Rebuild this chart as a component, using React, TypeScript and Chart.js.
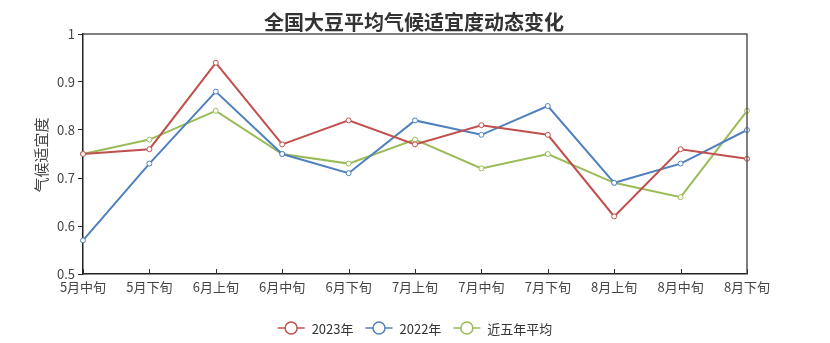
import React, { useEffect, useRef } from "react";
import { Chart, registerables } from "chart.js";

Chart.register(...registerables);

const categories = ["5月中旬", "5月下旬", "6月上旬", "6月中旬", "6月下旬", "7月上旬", "7月中旬", "7月下旬", "8月上旬", "8月中旬", "8月下旬"];
const series2023 = [0.75, 0.76, 0.94, 0.77, 0.82, 0.77, 0.81, 0.79, 0.62, 0.76, 0.74];
const series2022 = [0.57, 0.73, 0.88, 0.75, 0.71, 0.82, 0.79, 0.85, 0.69, 0.73, 0.80];
const seriesAvg = [0.75, 0.78, 0.84, 0.75, 0.73, 0.78, 0.72, 0.75, 0.69, 0.66, 0.84];
const seriesNames = ["2023年", "2022年", "近五年平均"];
const seriesColors = ["#C0504D", "#4F81BD", "#9BBB59"];
const titleText = "全国大豆平均气候适宜度动态变化";
const yAxisTitle = "气候适宜度";

const FONT = "'Noto Sans CJK SC', 'Noto Sans', sans-serif";

const decorPlugin = {
  id: "decor",
  afterDraw(chart: any) {
    const ctx = chart.ctx;
    const ca = chart.chartArea;
    const xs = chart.scales.x;
    ctx.save();
    // frame top/right
    ctx.strokeStyle = "#555";
    ctx.lineWidth = 1.5;
    ctx.beginPath();
    ctx.moveTo(ca.left, ca.top);
    ctx.lineTo(ca.right, ca.top);
    ctx.lineTo(ca.right, ca.bottom);
    ctx.stroke();
    // x ticks inward
    ctx.strokeStyle = "#333";
    ctx.lineWidth = 1;
    for (let i = 0; i < xs.ticks.length; i++) {
      const px = Math.round(xs.getPixelForTick(i)) + 0.5;
      ctx.beginPath();
      ctx.moveTo(px, ca.bottom);
      ctx.lineTo(px, ca.bottom - 5);
      ctx.stroke();
    }
    // title
    ctx.fillStyle = "#333";
    ctx.font = `bold 20px ${FONT}`;
    ctx.textAlign = "center";
    ctx.textBaseline = "middle";
    ctx.fillText(titleText, 414, 22);
    // y axis title
    ctx.save();
    ctx.translate(41, 155);
    ctx.rotate(-Math.PI / 2);
    ctx.font = `15px ${FONT}`;
    ctx.fillStyle = "#444";
    ctx.fillText(yAxisTitle, 0, 0);
    ctx.restore();
    // legend
    ctx.font = `13px ${FONT}`;
    ctx.textAlign = "left";
    const lineW = 27;
    const gapText = 7;
    const gapItem = 12;
    const widths = seriesNames.map((n) => ctx.measureText(n).width);
    let total = 0;
    widths.forEach((w, i) => {
      total += lineW + gapText + w + (i < widths.length - 1 ? gapItem : 0);
    });
    let x = 415 - total / 2;
    const y = 328;
    seriesNames.forEach((n, i) => {
      ctx.strokeStyle = seriesColors[i];
      ctx.lineWidth = 1.5;
      ctx.beginPath();
      ctx.moveTo(x, y);
      ctx.lineTo(x + lineW, y);
      ctx.stroke();
      ctx.beginPath();
      ctx.arc(x + lineW / 2, y, 6, 0, Math.PI * 2);
      ctx.fillStyle = "#fff";
      ctx.fill();
      ctx.stroke();
      ctx.fillStyle = "#333";
      ctx.fillText(n, x + lineW + gapText, y + 1);
      x += lineW + gapText + widths[i] + gapItem;
    });
    ctx.restore();
  },
};

export default function App() {
  const ref = useRef<HTMLCanvasElement | null>(null);
  useEffect(() => {
    document.body.style.margin = "0";
    const data = [series2023, series2022, seriesAvg];
    const chart = new Chart(ref.current as HTMLCanvasElement, {
      type: "line",
      data: {
        labels: categories,
        datasets: data.map((d, i) => ({
          label: seriesNames[i],
          data: d,
          borderColor: seriesColors[i],
          backgroundColor: "#fff",
          borderWidth: 2,
          pointRadius: 2.5,
          pointBorderWidth: 1,
          pointBackgroundColor: "#fff",
          pointBorderColor: seriesColors[i],
          tension: 0,
        })),
      },
      options: {
        animation: false,
        responsive: false,
        maintainAspectRatio: false,
        layout: { padding: { top: 34, right: 83, bottom: 0, left: 0 } },
        plugins: { legend: { display: false }, title: { display: false }, tooltip: { enabled: false } },
        scales: {
          x: {
            offset: false,
            grid: { display: false, drawTicks: false },
            border: { display: true, color: "#222", width: 1.5 },
            ticks: { color: "#444", font: { size: 13, family: FONT }, padding: 5, maxRotation: 0, autoSkip: false },
            afterFit: (s: any) => { s.height = 69; },
          },
          y: {
            min: 0.5,
            max: 1,
            ticks: {
              stepSize: 0.1,
              color: "#444",
              font: { size: 13, family: FONT },
              padding: 3,
              callback: (v: any) => String(Math.round(Number(v) * 10) / 10),
            },
            grid: { display: true, drawOnChartArea: false, drawTicks: true, tickLength: 5, color: "#333" },
            border: { display: true, color: "#222", width: 1.5 },
            afterFit: (s: any) => { s.width = 83; },
          },
        },
      },
      plugins: [decorPlugin],
    });
    return () => chart.destroy();
  }, []);
  return (
    <div style={{ width: 830, height: 343 }}>
      <canvas ref={ref} width={830} height={343} style={{ display: "block" }} />
    </div>
  );
}
